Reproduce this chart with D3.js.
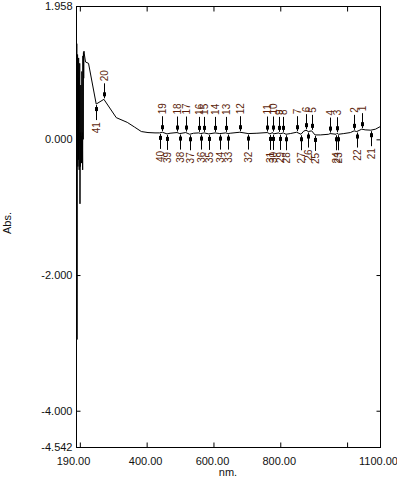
<!DOCTYPE html>
<html>
<head>
<meta charset="utf-8">
<script src="https://cdn.jsdelivr.net/npm/d3@7"></script>
<style>
  body { margin: 0; background: #fff; }
  svg { display: block; font-family: "Liberation Sans", Arial, sans-serif; }
</style>
</head>
<body>
<div id="chart"></div>
<script>
// spectrum: noisy start (nm, abs)
const noiseNm  = [190, 190.8, 191.6, 192.4, 193.2, 194, 194.8, 195.6, 196.4, 197.2, 198, 198.8, 199.6, 200.4, 201.2, 202, 202.8, 203.6, 204.4, 205.2, 206, 206.8, 207.6, 208.4, 209.2, 210, 210.8, 211.6, 212.4];
const noiseAbs = [0.1, 1.41, -2.95, 0.2, 1.25, -0.4, 0.9, -0.3, 1.2, -0.2, -0.45, 0.3, 1.12, -0.95, 0.1, -0.4, 0.8, -0.3, 0.05, -0.35, 1.0, -0.2, 0.1, -0.45, 1.23, 0.0, 1.28, 0.9, 1.3];

// smooth part of the spectrum between the labelled points
const baseNm  = [213, 217, 226, 309, 342, 364, 384, 404, 425, 470, 540, 650, 730, 830, 870, 920, 945, 990, 1010, 1054, 1085, 1100];
const baseAbs = [1.27, 1.14, 1.12, 0.32, 0.25, 0.18, 0.115, 0.10, 0.095, 0.09, 0.09, 0.09, 0.09, 0.085, 0.12, 0.065, 0.075, 0.085, 0.1, 0.14, 0.15, 0.19];

// peaks (labels above) and valleys (labels below)
const peakNo  = [1, 2, 3, 4, 5, 6, 7, 8, 9, 10, 11, 12, 13, 14, 15, 16, 17, 18, 19, 20];
const peakNm  = [1044, 1021, 970, 949, 894, 877, 849, 809, 796, 777, 761, 679, 637, 605, 572, 556, 517, 491, 447, 272];
const peakAbs = [0.15, 0.125, 0.09, 0.085, 0.125, 0.135, 0.105, 0.095, 0.095, 0.1, 0.1, 0.105, 0.095, 0.095, 0.095, 0.095, 0.1, 0.1, 0.105, 0.59];

const valleyNo  = [21, 22, 23, 24, 25, 26, 27, 28, 29, 30, 31, 32, 33, 34, 35, 36, 37, 38, 39, 40, 41];
const valleyNm  = [1071, 1029, 974, 967, 904, 884, 862, 817, 799, 779, 769, 704, 644, 619, 586, 562, 529, 499, 461, 439, 249];
const valleyAbs = [0.135, 0.115, 0.075, 0.075, 0.065, 0.115, 0.075, 0.075, 0.08, 0.08, 0.08, 0.085, 0.085, 0.085, 0.08, 0.085, 0.075, 0.085, 0.08, 0.095, 0.52];

// axis ticks and labels
const xTicks = [200, 400, 600, 800, 1000];
const xLabelVals = [190, 400, 600, 800, 1100];
const xLabels = ["190.00", "400.00", "600.00", "800.00", "1100.00"];
const yTicks = [0, -2, -4];
const yLabelVals = [1.958, 0, -2, -4, -4.542];
const yLabels = ["1.958", "0.000", "-2.000", "-4.000", "-4.542"];

const W = 397, H = 478;
const box = {left: 76.5, right: 380.5, top: 6.5, bottom: 447.5};
const labelColor = "#5c1f0c";

const svg = d3.select("#chart").append("svg")
    .attr("width", W)
    .attr("height", H);

const x = d3.scaleLinear().domain([190, 1100]).range([box.left, box.right]);
const y = d3.scaleLinear().domain([-4.542, 1.958]).range([box.bottom, box.top]);

// frame
svg.append("rect")
    .attr("x", box.left).attr("y", box.top)
    .attr("width", box.right - box.left).attr("height", box.bottom - box.top)
    .attr("fill", "none").attr("stroke", "#000").attr("stroke-width", 1);

// inward ticks on all four sides
const tickAxis = (axis, tx, ty) => svg.append("g")
    .attr("transform", "translate(" + tx + "," + ty + ")")
    .call(axis)
    .call(g => g.select(".domain").remove())
    .call(g => g.selectAll("line").attr("stroke", "#000"));
tickAxis(d3.axisBottom(x).tickValues(xTicks).tickSize(-5).tickFormat(""), 0, box.bottom);
tickAxis(d3.axisTop(x).tickValues(xTicks).tickSize(-5).tickFormat(""), 0, box.top);
tickAxis(d3.axisLeft(y).tickValues(yTicks).tickSize(-4).tickFormat(""), box.left, 0);
tickAxis(d3.axisRight(y).tickValues(yTicks).tickSize(-4).tickFormat(""), box.right, 0);

// tick labels
svg.append("g").selectAll("text")
    .data(xLabelVals)
    .enter().append("text")
    .attr("x", (d, i) => x(d) - (i == 0 ? 3 : i == 4 ? 2 : 1))
    .attr("y", 465)
    .attr("text-anchor", "middle")
    .style("font-size", "11px")
    .attr("fill", "#111")
    .text((d, i) => xLabels[i]);

svg.append("g").selectAll("text")
    .data(yLabelVals)
    .enter().append("text")
    .attr("x", 72.5)
    .attr("y", d => y(d))
    .attr("dy", "0.36em")
    .attr("text-anchor", "end")
    .style("font-size", "11px")
    .attr("fill", "#111")
    .text((d, i) => yLabels[i]);

// axis titles
svg.append("text")
    .attr("x", 228).attr("y", 476)
    .attr("text-anchor", "middle")
    .style("font-size", "11px")
    .attr("fill", "#111")
    .text("nm.");
svg.append("text")
    .attr("transform", "translate(11,223) rotate(-90)")
    .attr("text-anchor", "middle")
    .style("font-size", "11px")
    .attr("fill", "#111")
    .text("Abs.");

// build the spectrum from all the arrays
const pts = [];
noiseNm.forEach((d, i) => pts.push([d, noiseAbs[i]]));
baseNm.forEach((d, i) => pts.push([d, baseAbs[i]]));
peakNm.forEach((d, i) => pts.push([d, peakAbs[i]]));
valleyNm.forEach((d, i) => pts.push([d, valleyAbs[i]]));
pts.sort((a, b) => a[0] - b[0]);

const line = d3.line().x(d => x(d[0])).y(d => y(d[1]));

svg.append("path")
    .datum(pts)
    .attr("fill", "none")
    .attr("stroke", "#000")
    .attr("stroke-width", 1)
    .attr("d", line);

// peak / valley arrows with labels
function marks(nos, nms, vals, dir) {
    const g = svg.append("g").selectAll("g")
        .data(nos)
        .enter().append("g")
        .attr("transform", (d, i) => "translate(" + (Math.round(x(nms[i])) + 0.5) + "," + y(vals[i]) + ")");
    g.append("line")
        .attr("x1", 0).attr("x2", 0)
        .attr("y1", dir * 1).attr("y2", dir * 16)
        .attr("stroke", "#000");
    g.append("rect")
        .attr("x", -1.5).attr("y", dir < 0 ? -7 : 3)
        .attr("width", 3).attr("height", 4)
        .attr("fill", "#000");
    g.append("text")
        .attr("transform", "translate(0," + (dir * 18) + ") rotate(-90)")
        .attr("dy", "0.35em")
        .attr("text-anchor", dir < 0 ? "start" : "end")
        .style("font-size", "10px")
        .attr("fill", labelColor)
        .text(d => d);
}
marks(peakNo, peakNm, peakAbs, -1);
marks(valleyNo, valleyNm, valleyAbs, 1);
</script>
</body>
</html>
